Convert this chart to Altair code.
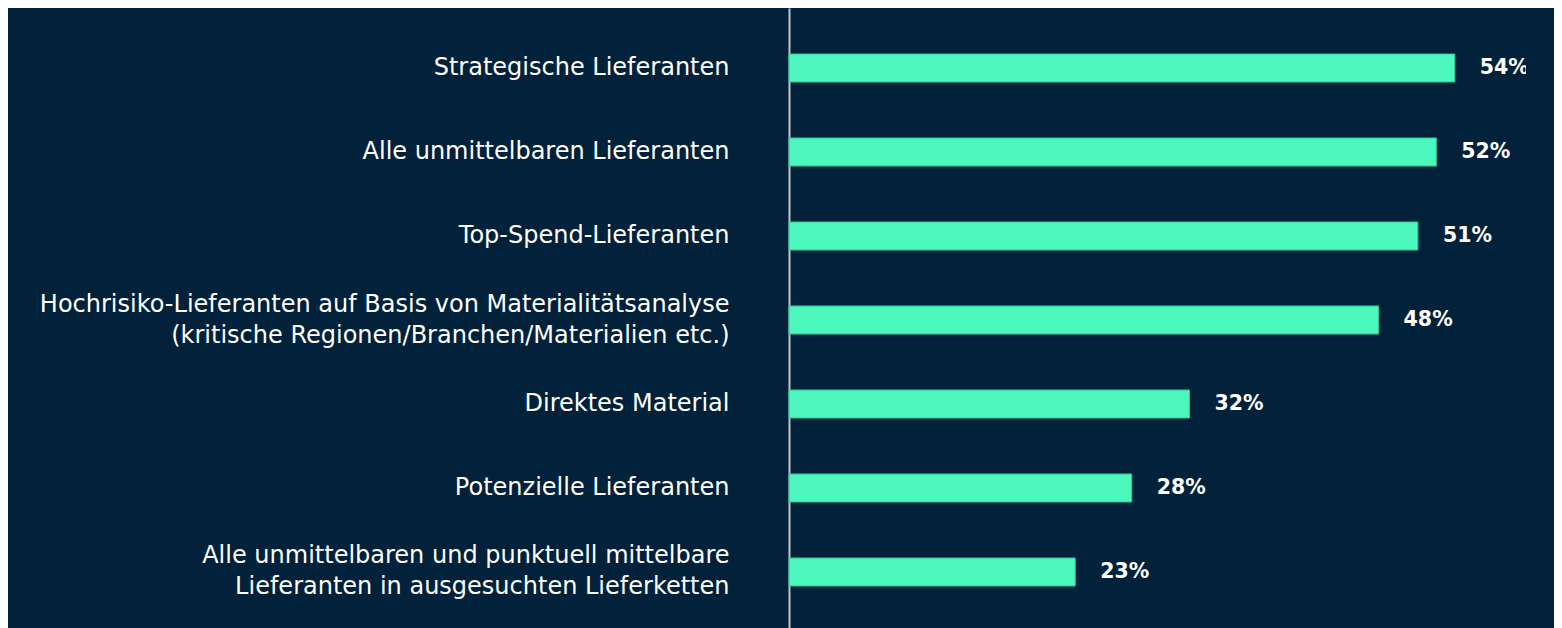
import altair as alt
import pandas as pd

categories = [
    "Strategische Lieferanten",
    "Alle unmittelbaren Lieferanten",
    "Top-Spend-Lieferanten",
    "Hochrisiko-Lieferanten auf Basis von Materialitätsanalyse|(kritische Regionen/Branchen/Materialien etc.)",
    "Direktes Material",
    "Potenzielle Lieferanten",
    "Alle unmittelbaren und punktuell mittelbare|Lieferanten in ausgesuchten Lieferketten",
]
values = [54.2, 52.7, 51.2, 48.0, 32.6, 27.9, 23.3]
value_labels = ["54%", "52%", "51%", "48%", "32%", "28%", "23%"]

df = pd.DataFrame({"cat": categories, "value": values, "label": value_labels})

BG = "#02213A"
BAR = "#4BF7BD"
FONT = "DejaVu Sans"

base = alt.Chart(df).encode(
    y=alt.Y(
        "cat:N",
        sort=None,
        scale=alt.Scale(paddingInner=0.667, paddingOuter=0.548),
        axis=alt.Axis(
            title=None,
            ticks=False,
            labelExpr="split(datum.label, '|')",
            labelFont=FONT,
            labelFontSize=24,
            labelColor="#FFFFFF",
            labelPadding=60,
            labelLineHeight=31,
            labelLimit=800,
            labelOffset={
                "condition": {"test": "indexof(datum.value, '|') >= 0", "value": -15.5},
                "value": 0,
            },
            domainColor="#C5C5C5",
            domainWidth=2,
        ),
    )
)

bars = base.mark_bar(color=BAR, stroke="#36C99A", strokeWidth=1).encode(
    x=alt.X("value:Q", scale=alt.Scale(domain=[0, 60]), axis=None)
)

text = base.mark_text(
    align="left", baseline="middle", dx=25, fontSize=20.5, fontWeight="bold",
    font=FONT, color="#FFFFFF", clip=True
).encode(x=alt.X("value:Q"), text="label:N")

chart = (bars + text).properties(
    width=737,
    height=624,
    autosize=alt.AutoSizeParams(type="none"),
    padding={"left": 781, "top": 0, "right": 28, "bottom": 0},
    background=BG,
).configure_view(stroke=None)

chart.save("out.html", embed_options={"renderer": "svg", "actions": False})
